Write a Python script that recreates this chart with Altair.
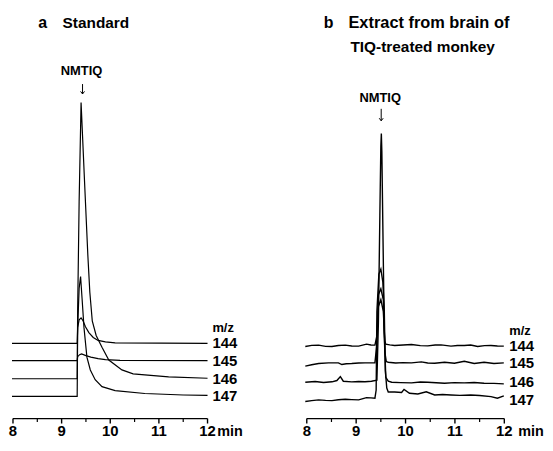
import altair as alt
import pandas as pd

FONT = "Liberation Sans"

MZ = ["144", "145", "146", "147"]

# ---------- panel a: standard (retention time in min, signal in arbitrary units) ----------
A_OFFSET = [76.5, 59, 40.5, 22.5]
A_T = [
    [7.98, 9.32, 9.33, 9.36, 9.40, 9.44, 9.49, 9.56, 9.65, 9.75, 9.90, 10.10, 12.0],
    [7.98, 9.32, 9.33, 9.37, 9.41, 9.50, 9.60, 9.75, 9.90, 10.20, 12.0],
    [7.98, 9.32, 9.33, 9.36, 9.40, 9.47, 9.54, 9.58, 9.63, 9.71, 9.83, 9.97, 10.24, 10.47, 10.71, 11.20, 12.0],
    [7.98, 9.32, 9.33, 9.36, 9.39, 9.42, 9.46, 9.52, 9.59, 9.69, 9.83, 10.10, 10.71, 11.50, 12.0],
]
A_S = [
    [0, 0, 16, 24, 26, 23, 17, 11, 6, 3, 1.5, 0.5, 0],
    [0, 0, 4, 6, 6.7, 5, 3.5, 2, 1, 0.3, 0],
    [0, 0, 70, 180, 281, 202, 125, 88, 59, 44, 32, 19, 9, 5, 4, 2, 0.5],
    [0, 0, 70, 110, 122, 100, 70, 40, 27, 17, 10, 6, 3, 1.5, 1],
]

# ---------- panel b: extract from brain of TIQ-treated monkey ----------
B_OFFSET = [74, 56, 37, 19]
B_T = [
    [7.97, 8.10, 8.24, 8.38, 8.51, 8.64, 8.78, 8.91, 9.05, 9.21, 9.30, 9.38, 9.42, 9.45, 9.50, 9.55, 9.58,
     9.60, 9.68, 9.78, 9.95, 10.12, 10.30, 10.45, 10.60, 10.72, 10.92, 11.05, 11.19, 11.32, 11.46, 11.60,
     11.73, 11.86, 11.99],
    [7.97, 8.10, 8.24, 8.44, 8.64, 8.71, 8.80, 8.91, 9.05, 9.18, 9.38, 9.42, 9.45, 9.50, 9.55, 9.58, 9.61,
     9.65, 9.80, 9.95, 10.12, 10.32, 10.45, 10.59, 10.79, 10.99, 11.19, 11.39, 11.59, 11.79, 11.99],
    [7.97, 8.17, 8.34, 8.51, 8.61, 8.68, 8.74, 8.91, 9.05, 9.18, 9.31, 9.42, 9.45, 9.48, 9.50, 9.51, 9.52,
     9.54, 9.57, 9.60, 9.65, 9.72, 9.90, 10.12, 10.30, 10.45, 10.62, 10.79, 10.99, 11.19, 11.39, 11.59,
     11.79, 11.99],
    [7.97, 8.10, 8.24, 8.38, 8.51, 8.64, 8.78, 8.91, 9.05, 9.21, 9.30, 9.38, 9.405, 9.42, 9.46, 9.50, 9.54,
     9.57, 9.59, 9.62, 9.65, 9.78, 9.92, 9.97, 10.08, 10.25, 10.42, 10.59, 10.75, 10.92, 11.10, 11.32,
     11.50, 11.73, 11.86, 11.99],
]
B_S = [
    [-0.7, 0.5, 0.7, -0.5, -0.7, 0.4, 0.7, -0.2, -0.3, 1.7, 0.8, 0.7, 10, 40, 47, 35, 5,
     1.7, 1.0, 0.3, 0.8, 1.3, 0.2, 0, 0.8, 1, -0.3, 0.4, 0.3, 0.9, -0.7, 0.2,
     0.3, -0.2, -0.3],
    [-2.7, -1.2, 0, 0.7, 0.7, -1, -0.2, 0, 0.5, 0.7, 0.7, 20, 70, 76, 65, 12, 2,
     1.3, 0.5, 0.9, 0.7, 1.7, 0.6, 0.3, 1.3, 0.3, 2.3, 0, 1.3, 0, 0.7],
    [0, 0.7, -0.3, 0.4, 1.7, 5.7, 1, 0.3, 0.7, 0.5, 1, 2, 60, 170, 240, 253, 235,
     160, 50, 5, 1, 0, -0.4, -0.7, 0.2, 0, -0.5, -1, -0.4, -0.7, -0.3, -1,
     -1.2, -1.7],
    [-1.7, -0.8, 0, -0.5, -0.7, 0.2, 0.7, 0.3, 0, 2.3, 2.0, 1.7, 10, 90, 128, 133, 120,
     90, 30, 12, 8, 8, 7.5, 10.7, 6.7, 6, 8.3, 5, 5.5, 5, 4.6, 5,
     4.5, 3.3, 1.7, 4],
]

TICKS = [8, 9, 10, 11, 12]
MINOR = [8.5, 9.5, 10.5, 11.5]

H = 433
YDOM = [-21.21, 416.16]
LAB_Y = -18.2


def trace_frame(offsets, tl, sl):
    rows = []
    for mz, off, ts, ss in zip(MZ, offsets, tl, sl):
        for i, (t, s) in enumerate(zip(ts, ss)):
            rows.append({"mz": mz, "t": t, "y": off + s, "i": i})
    return pd.DataFrame(rows)


def panel(df, offsets, xdom, width, notes, arrow, mz_x, min_x, lw):
    xs = alt.Scale(domain=xdom, nice=False, zero=False)
    ys = alt.Scale(domain=YDOM, nice=False, zero=False)
    X = lambda f: alt.X(f, type="quantitative", scale=xs, axis=None)
    Y = lambda f: alt.Y(f, type="quantitative", scale=ys, axis=None)

    lines = alt.Chart(df).mark_line(color="black", strokeWidth=lw).encode(
        x=X("t"), y=Y("y"), detail="mz:N", order="i:Q")

    dom = alt.Chart(pd.DataFrame({"a": [TICKS[0]], "b": [TICKS[-1]], "y": [0]})).mark_rule(
        color="black", strokeWidth=1.3).encode(x=X("a"), x2="b:Q", y=Y("y"))
    major = alt.Chart(pd.DataFrame({"t": TICKS, "y0": 0, "y1": -5.05})).mark_rule(
        color="black", strokeWidth=1.4).encode(x=X("t"), y=Y("y0"), y2="y1:Q")
    minor = alt.Chart(pd.DataFrame({"t": MINOR, "y0": 0, "y1": -3.5})).mark_rule(
        color="black", strokeWidth=1.2).encode(x=X("t"), y=Y("y0"), y2="y1:Q")

    # text annotations: t, y, label, font size, align, baseline
    rows = [[t, LAB_Y, str(t), 15, "center", "alphabetic"] for t in TICKS]
    rows.append([min_x, LAB_Y, "min", 14.5, "left", "alphabetic"])
    rows += [[mz_x, off, m, 15, "left", "middle"] for m, off in zip(MZ, offsets)]
    rows.append([mz_x, offsets[0] + 15.5, "m/z", 13, "left", "middle"])
    rows += notes
    tdf = pd.DataFrame(rows, columns=["t", "y", "lab", "fs", "al", "bl"])

    texts = []
    for al in ["left", "center"]:
        for bl in ["middle", "alphabetic"]:
            sub = tdf[(tdf["al"] == al) & (tdf["bl"] == bl)]
            if len(sub):
                texts.append(alt.Chart(sub).mark_text(
                    font=FONT, fontWeight="bold", color="black", align=al, baseline=bl).encode(
                    x=X("t"), y=Y("y"), text="lab:N", size=alt.Size("fs:Q", scale=None)))

    adf = pd.DataFrame([arrow], columns=["t", "top", "tip"])
    shaft = alt.Chart(adf).mark_rule(color="black", strokeWidth=1).encode(
        x=X("t"), y=Y("top"), y2="tip:Q")
    head = alt.Chart(adf).mark_point(
        shape="M-1,-1.3L0,0L1,-1.3", filled=False, size=16, color="black", strokeWidth=1, opacity=1).encode(
        x=X("t"), y=Y("tip"))

    return alt.layer(dom, major, minor, lines, *texts, shaft, head).properties(width=width, height=H)


dfa = trace_frame(A_OFFSET, A_T, A_S)
dfb = trace_frame(B_OFFSET, B_T, B_S)

pa = panel(
    dfa, A_OFFSET, [7.918, 13.571], 277,
    [[8.61, 402, "a", 16, "center", "middle"],
     [9.02, 402, "Standard", 15.5, "left", "middle"],
     [9.41, 353.5, "NMTIQ", 13, "center", "middle"]],
    [9.43, 340.4, 330.3], 12.10, 12.20, 1.2)

pb = panel(
    dfb, B_OFFSET, [7.5377, 12.824], 263,
    [[8.44, 402, "b", 16, "center", "middle"],
     [8.844, 402, "Extract from brain of", 16.5, "left", "middle"],
     [8.884, 377.8, "TIQ-treated monkey", 15.5, "left", "middle"],
     [9.487, 326.3, "NMTIQ", 13, "center", "middle"]],
    [9.507, 315.2, 303.0], 12.10, 12.28, 1.4)

chart = alt.hconcat(pa, pb, spacing=0).properties(padding=0).configure_view(stroke=None)

chart.save("out.html", embed_options={"renderer": "svg", "actions": False})
